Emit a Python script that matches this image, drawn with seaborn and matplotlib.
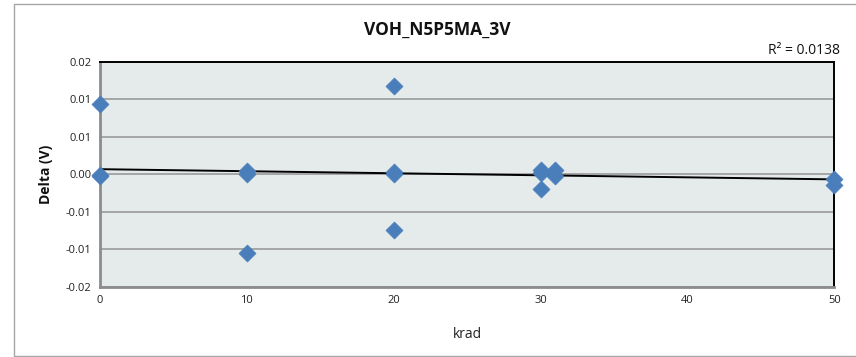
import numpy as np
import pandas as pd
import matplotlib
matplotlib.use("Agg")
import matplotlib.pyplot as plt
import seaborn as sns
from matplotlib.patches import Rectangle

# Data
krad = [0, 0, 0, 10, 10, 10, 20, 20, 20, 20, 30, 30, 30, 31, 31, 50, 50]
delta = [0.0093, -0.0001, -0.0002, 0.0004, 0.0000, -0.0105, 0.0118, 0.0003, 0.0000,
         -0.0074, 0.0006, 0.0001, -0.0020, 0.0005, -0.0002, -0.0007, -0.0014]
# Excel linear trend line, endpoints
trend_krad = [0, 50]
trend_delta = [0.00067, -0.00069]
x_ticks = [0, 10, 20, 30, 40, 50]
y_ticks = [-0.015, -0.010, -0.005, 0.0, 0.005, 0.010, 0.015]
y_tick_labels = ["-0.02", "-0.01", "-0.01", "0.00", "0.01", "0.01", "0.02"]
title = "VOH_N5P5MA_3V"
r2_text = "R² = 0.0138"

df = pd.DataFrame({"krad": krad, "delta": delta})
trend = pd.DataFrame({"krad": trend_krad, "delta": trend_delta})

sns.set_style("white")
plt.rcParams['font.family'] = ['Open Sans', 'DejaVu Sans']

fig = plt.figure(figsize=(8.56, 3.57), dpi=100)
fig.patch.set_facecolor("white")
ax = fig.add_axes([100/856, 1-286.7/357, (834.3-100)/856, (286.7-61.7)/357])
ax.set_facecolor("#E5EBEB")

# outer chart border
fig.patches.append(Rectangle((14.5/856, 0.8/357), (858-14.5)/856, (352.5)/357,
                             transform=fig.transFigure, fill=False,
                             edgecolor="#A6A6A6", linewidth=1.0))

sns.lineplot(data=trend, x="krad", y="delta", ax=ax, color="black",
             linewidth=1.4, zorder=3)
sns.scatterplot(data=df, x="krad", y="delta", ax=ax, marker="D", s=75,
                color="#4A7EBB", edgecolor="#4A7EBB", linewidth=0.5,
                zorder=4, clip_on=False)

ax.set_xlim(0, 50)
ax.set_ylim(-0.015, 0.015)
ax.set_xticks(x_ticks)
ax.set_xticklabels([str(t) for t in x_ticks], fontsize=8)
ax.set_yticks(y_ticks)
ax.set_yticklabels(y_tick_labels, fontsize=8)
ax.yaxis.grid(True, color="#9A9A9A", linewidth=1.2)
ax.xaxis.grid(False)
ax.set_axisbelow(True)
ax.tick_params(axis="both", direction="out", length=4, width=1.2,
               color="#8C8C8C", pad=2, labelcolor="#222222")

for side in ["left", "bottom"]:
    ax.spines[side].set_color("#8C8C8C")
    ax.spines[side].set_linewidth(2.0)
for side in ["top", "right"]:
    ax.spines[side].set_color("black")
    ax.spines[side].set_linewidth(1.4)

ax.set_xlabel("krad", fontsize=10, color="#222222")
ax.xaxis.set_label_coords(0.5, -0.18)
ax.set_ylabel("Delta (V)", fontsize=10, fontweight="bold", color="#111111")
ax.yaxis.set_label_coords(-0.064, 0.5)

fig.text(437/856, 1-30/357, title, ha="center", va="center",
         fontsize=12.5, fontweight="bold", color="#111111")
fig.text(840/856, 1-50/357, r2_text, ha="right", va="center",
         fontsize=10, color="#111111")

fig.savefig("out.png", dpi=100)
